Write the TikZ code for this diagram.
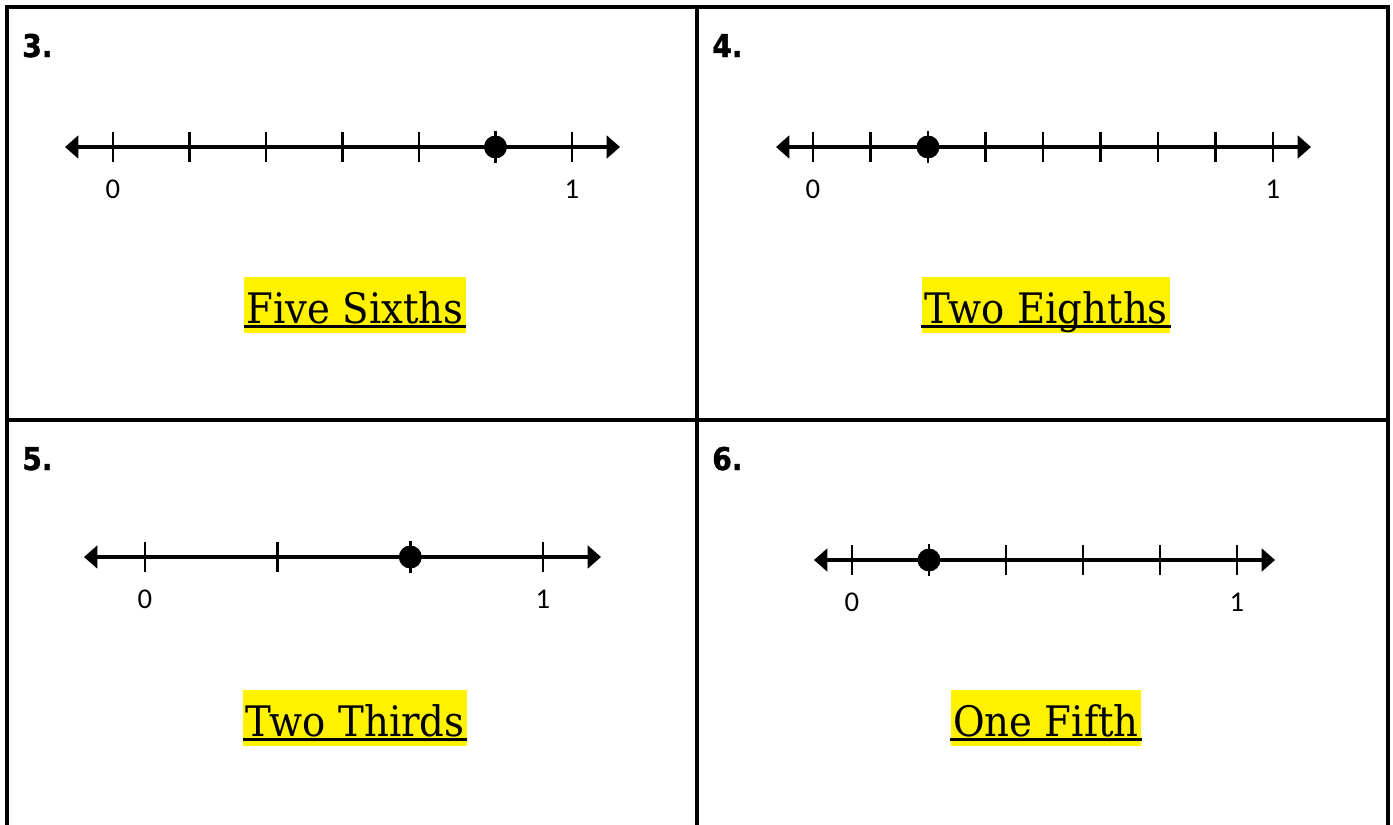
\documentclass[tikz,border=0pt]{standalone}
\usepackage{fontspec}
\setmainfont[FakeStretch=0.92]{DejaVu Serif}
\newfontfamily\tickfont{Carlito}
\newfontfamily\qnumfont[FakeStretch=0.9, FakeBold=1.2]{DejaVu Sans Bold}
\usetikzlibrary{arrows.meta, positioning}

\begin{document}
\begin{tikzpicture}[
    x=0.75pt, y=-0.75pt,
    frame/.style    ={line width=3pt, black, line join=miter},
    numline/.style  ={line width=2.3pt,
                      {Triangle[length=10pt, width=17pt]}-{Triangle[length=10pt, width=17pt]}},
    ticmark/.style  ={line width=2pt},
    marker/.style   ={circle, fill=black, inner sep=0pt, minimum size=17pt},
    ticklabel/.style={font=\tickfont\fontsize{21.5}{24}\selectfont, inner sep=0pt},
    qnum/.style     ={font=\qnumfont\fontsize{23.5}{26}\selectfont, anchor=base west, inner sep=0pt},
    answer/.style   ={fill=yellow, font=\fontsize{31.5}{36}\selectfont, anchor=base,
                      text height=34.5pt, text depth=7.5pt, inner ysep=0pt, inner xsep=2pt},
    uline/.style    ={line width=2.3pt},
]
\useasboundingbox (0,0) rectangle (1393,825);

% ── Frame ─────────────────────────────────────────────────────
\draw[frame] (7,825) -- (7,7) -- (1388,7) -- (1388,825);
\draw[frame] (697,7) -- (697,825);
\draw[frame] (7,420) -- (1388,420);

% ── Question numbers ──────────────────────────────────────────
\node[qnum] (q3) at (22,57)  {3.};
\node[qnum] (q4) at (712,57) {4.};
\node[qnum] (q5) at (22,470) {5.};
\node[qnum] (q6) at (712,470){6.};

% ── Number lines: panel / zero / one / parts / point / y / left / right ──
\foreach \p/\z/\o/\n/\k/\y/\l/\r in {3/113/572/6/5/147/65/620,
                                     4/813/1273/8/2/147/776/1311,
                                     5/145/543/3/2/557/84/601,
                                     6/852/1237/5/1/560/814/1275}{
  \coordinate (left\p)  at (\l,\y);
  \coordinate (right\p) at (\r,\y);
  \draw[numline] (left\p) -- (right\p);
  \foreach \i in {0,...,\n}
    \draw[ticmark] ({\z+(\o-\z)*\i/\n},\y-15) -- ++(0,30);
  \node[marker] (pt\p) at ({\z+(\o-\z)*\k/\n},\y) {};
  \draw[ticmark] ([yshift=12pt]pt\p.center) -- ([yshift=-12pt]pt\p.center);
  \node[marker] at (pt\p) {};
  \node[ticklabel] (zero\p) at (\z,\y+42) {0};
  \node[ticklabel] (one\p)  at (\o,\y+42) {1};
}

% ── Answers ───────────────────────────────────────────────────
\node[answer] (ans3) at (355,323)  {Five Sixths};
\node[answer] (ans4) at (1046,323) {Two Eighths};
\node[answer] (ans5) at (355,736)  {Two Thirds};
\node[answer] (ans6) at (1046,736) {One Fifth};
\foreach \a in {ans3,ans4,ans5,ans6}
  \draw[uline] ([yshift=-2.6pt]\a.base west) -- ([yshift=-2.6pt]\a.base east);

\end{tikzpicture}
\end{document}
